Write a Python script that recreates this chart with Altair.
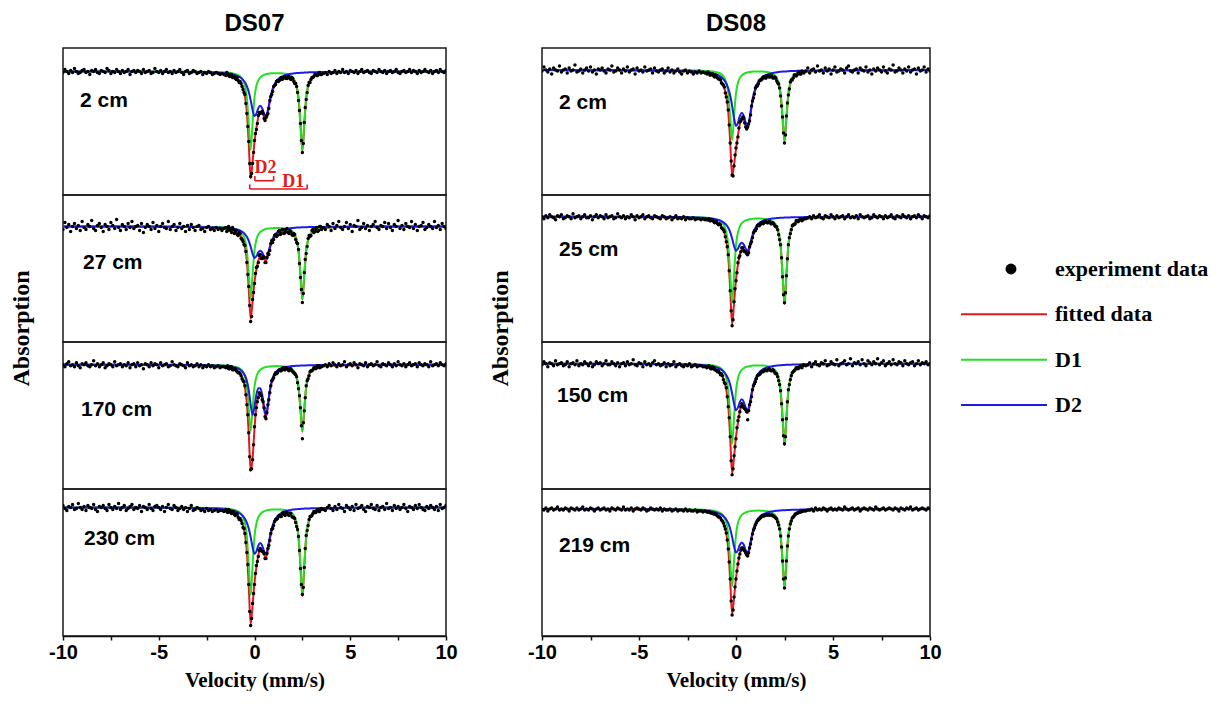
import altair as alt
import pandas as pd

# ---------------- data ----------------
# velocity grid (mm/s) on which the fitted sub-spectra are tabulated
CURVE_VELOCITY = [-10, -6, -3, -2, -1.5, -1.4, -1.3, -1.2, -1.1, -1.0, -0.9, -0.8, -0.7, -0.6,
                  -0.5, -0.4, -0.3, -0.2, -0.1, 0.0, 0.1, 0.2, 0.3, 0.4, 0.5, 0.6, 0.7, 0.8, 0.9,
                  1.0, 1.1, 1.2, 1.3, 1.4, 1.5, 1.6, 1.7, 1.8, 1.9, 2.0, 2.1, 2.2, 2.3, 2.4, 2.5,
                  2.6, 2.7, 2.8, 2.9, 3.0, 3.1, 3.2, 3.3, 3.4, 3.5, 4.5, 6, 10]
# experimental channels: three runs (start mm/s, step mm/s)
SEGMENTS = [(-10.0, 0.1), (-1.5, 0.05), (3.6, 0.1)]

# absorption (a.u., baseline = 0) of sub-spectra D1 and D2, per sample
DS07_2_D1 = [0.0, 0.1, 0.2, 0.5, 1.0, 1.1, 1.3, 1.6, 2.0, 2.4, 3.1, 4.2, 5.8, 8.7, 14.1, 25.8, 51.8, 78.2, 51.9, 25.9, 14.2, 8.8, 6.0, 4.4, 3.4, 2.7, 2.3, 2.0, 1.8, 1.7, 1.7, 1.7, 1.7, 1.8, 2.0, 2.3, 2.7, 3.4, 4.4, 6.0, 8.8, 14.2, 25.9, 51.9, 78.2, 51.8, 25.8, 14.1, 8.7, 5.8, 4.2, 3.1, 2.4, 2.0, 1.6, 0.5, 0.2, 0.0]
DS07_2_D2 = [0.0, 0.1, 0.5, 1.1, 1.8, 2.1, 2.3, 2.7, 3.1, 3.7, 4.4, 5.3, 6.5, 8.3, 10.8, 14.6, 20.2, 28.6, 38.5, 44.6, 42.2, 36.6, 34.2, 36.6, 42.2, 44.6, 38.5, 28.6, 20.2, 14.6, 10.8, 8.3, 6.5, 5.3, 4.4, 3.7, 3.1, 2.7, 2.3, 2.1, 1.8, 1.6, 1.5, 1.3, 1.2, 1.1, 1.0, 0.9, 0.8, 0.8, 0.7, 0.7, 0.6, 0.6, 0.6, 0.3, 0.1, 0.0]
DS07_27_D1 = [0.0, 0.1, 0.2, 0.5, 0.9, 1.1, 1.2, 1.5, 1.8, 2.3, 2.9, 3.8, 5.4, 8.0, 13.0, 23.9, 47.8, 72.2, 47.9, 23.9, 13.1, 8.1, 5.5, 4.0, 3.1, 2.5, 2.1, 1.9, 1.7, 1.6, 1.5, 1.5, 1.6, 1.7, 1.9, 2.1, 2.5, 3.1, 4.0, 5.5, 8.1, 13.1, 23.9, 47.9, 72.2, 47.8, 23.9, 13.0, 8.0, 5.4, 3.8, 2.9, 2.3, 1.8, 1.5, 0.4, 0.2, 0.0]
DS07_27_D2 = [0.0, 0.1, 0.4, 0.8, 1.3, 1.5, 1.7, 1.9, 2.2, 2.6, 3.1, 3.7, 4.6, 5.8, 7.6, 10.3, 14.3, 20.2, 27.2, 31.5, 29.8, 25.9, 24.2, 25.9, 29.8, 31.5, 27.2, 20.2, 14.3, 10.3, 7.6, 5.8, 4.6, 3.7, 3.1, 2.6, 2.2, 1.9, 1.7, 1.5, 1.3, 1.1, 1.0, 0.9, 0.8, 0.8, 0.7, 0.6, 0.6, 0.6, 0.5, 0.5, 0.4, 0.4, 0.4, 0.2, 0.1, 0.0]
DS07_170_D1 = [0.0, 0.1, 0.2, 0.5, 0.8, 1.0, 1.1, 1.4, 1.7, 2.1, 2.7, 3.5, 4.9, 7.3, 12.0, 21.9, 43.9, 66.2, 43.9, 21.9, 12.0, 7.4, 5.1, 3.7, 2.9, 2.3, 2.0, 1.7, 1.6, 1.5, 1.4, 1.4, 1.5, 1.6, 1.7, 2.0, 2.3, 2.9, 3.7, 5.1, 7.4, 12.0, 21.9, 43.9, 66.2, 43.9, 21.9, 12.0, 7.3, 4.9, 3.5, 2.7, 2.1, 1.7, 1.4, 0.4, 0.1, 0.0]
DS07_170_D2 = [0.0, 0.1, 0.4, 0.8, 1.3, 1.5, 1.8, 2.1, 2.4, 2.9, 3.5, 4.4, 5.7, 7.7, 10.8, 16.1, 25.4, 39.9, 50.0, 41.9, 29.7, 23.6, 23.6, 29.7, 41.9, 50.0, 39.9, 25.4, 16.1, 10.8, 7.7, 5.7, 4.4, 3.5, 2.9, 2.4, 2.1, 1.8, 1.5, 1.3, 1.2, 1.1, 1.0, 0.9, 0.8, 0.7, 0.7, 0.6, 0.6, 0.5, 0.5, 0.4, 0.4, 0.4, 0.4, 0.2, 0.1, 0.0]
DS07_230_D1 = [0.0, 0.1, 0.3, 0.6, 1.1, 1.3, 1.5, 1.8, 2.2, 2.7, 3.5, 4.6, 6.5, 9.7, 15.8, 28.8, 57.8, 87.2, 57.8, 28.9, 15.9, 9.8, 6.7, 4.9, 3.8, 3.1, 2.6, 2.3, 2.0, 1.9, 1.9, 1.9, 1.9, 2.0, 2.3, 2.6, 3.1, 3.8, 4.9, 6.7, 9.8, 15.9, 28.9, 57.8, 87.2, 57.8, 28.8, 15.8, 9.7, 6.5, 4.6, 3.5, 2.7, 2.2, 1.8, 0.5, 0.2, 0.0]
DS07_230_D2 = [0.1, 0.1, 0.5, 1.1, 1.9, 2.1, 2.4, 2.8, 3.2, 3.8, 4.5, 5.5, 6.8, 8.6, 11.2, 15.1, 21.0, 29.6, 39.9, 46.3, 43.8, 38.0, 35.4, 38.0, 43.8, 46.3, 39.9, 29.6, 21.0, 15.1, 11.2, 8.6, 6.8, 5.5, 4.5, 3.8, 3.2, 2.8, 2.4, 2.1, 1.9, 1.7, 1.5, 1.4, 1.2, 1.1, 1.0, 1.0, 0.9, 0.8, 0.8, 0.7, 0.7, 0.6, 0.6, 0.3, 0.1, 0.1]
DS08_2_D1 = [0.0, 0.1, 0.2, 0.5, 0.9, 1.0, 1.2, 1.4, 1.8, 2.2, 2.8, 3.7, 5.2, 7.8, 12.7, 23.2, 46.5, 70.2, 46.5, 23.2, 12.8, 7.9, 5.4, 3.9, 3.0, 2.5, 2.1, 1.8, 1.6, 1.5, 1.5, 1.5, 1.5, 1.6, 1.8, 2.1, 2.5, 3.0, 3.9, 5.4, 7.9, 12.8, 23.2, 46.5, 70.2, 46.5, 23.2, 12.7, 7.8, 5.2, 3.7, 2.8, 2.2, 1.8, 1.4, 0.4, 0.1, 0.0]
DS08_2_D2 = [0.1, 0.2, 0.7, 1.4, 2.3, 2.6, 2.9, 3.4, 3.9, 4.6, 5.4, 6.6, 8.2, 10.4, 13.5, 18.2, 25.3, 35.8, 48.2, 55.9, 52.8, 45.8, 42.8, 45.8, 52.8, 55.9, 48.2, 35.8, 25.3, 18.2, 13.5, 10.4, 8.2, 6.6, 5.4, 4.6, 3.9, 3.4, 2.9, 2.6, 2.3, 2.0, 1.8, 1.6, 1.5, 1.4, 1.3, 1.1, 1.1, 1.0, 0.9, 0.8, 0.8, 0.7, 0.7, 0.4, 0.2, 0.1]
DS08_25_D1 = [0.0, 0.1, 0.3, 0.6, 1.1, 1.3, 1.5, 1.8, 2.2, 2.7, 3.5, 4.6, 6.4, 9.5, 15.6, 28.5, 57.1, 86.2, 57.2, 28.6, 15.7, 9.7, 6.6, 4.8, 3.7, 3.0, 2.5, 2.2, 2.0, 1.9, 1.8, 1.8, 1.9, 2.0, 2.2, 2.5, 3.0, 3.7, 4.8, 6.6, 9.7, 15.7, 28.6, 57.2, 86.2, 57.1, 28.5, 15.6, 9.5, 6.4, 4.6, 3.5, 2.7, 2.2, 1.8, 0.5, 0.2, 0.0]
DS08_25_D2 = [0.0, 0.1, 0.4, 0.8, 1.4, 1.6, 1.8, 2.0, 2.4, 2.8, 3.3, 4.0, 5.0, 6.3, 8.2, 11.1, 15.4, 21.8, 29.3, 34.0, 32.1, 27.9, 26.0, 27.9, 32.1, 34.0, 29.3, 21.8, 15.4, 11.1, 8.2, 6.3, 5.0, 4.0, 3.3, 2.8, 2.4, 2.0, 1.8, 1.6, 1.4, 1.2, 1.1, 1.0, 0.9, 0.8, 0.8, 0.7, 0.6, 0.6, 0.6, 0.5, 0.5, 0.5, 0.4, 0.2, 0.1, 0.0]
DS08_150_D1 = [0.0, 0.1, 0.2, 0.6, 1.0, 1.2, 1.4, 1.6, 2.0, 2.5, 3.2, 4.3, 6.0, 8.9, 14.5, 26.5, 53.2, 80.2, 53.2, 26.6, 14.6, 9.0, 6.1, 4.5, 3.5, 2.8, 2.4, 2.1, 1.9, 1.8, 1.7, 1.7, 1.8, 1.9, 2.1, 2.4, 2.8, 3.5, 4.5, 6.1, 9.0, 14.6, 26.6, 53.2, 80.2, 53.2, 26.5, 14.5, 8.9, 6.0, 4.3, 3.2, 2.5, 2.0, 1.6, 0.5, 0.2, 0.0]
DS08_150_D2 = [0.1, 0.1, 0.5, 1.1, 1.9, 2.1, 2.4, 2.8, 3.2, 3.8, 4.5, 5.5, 6.8, 8.6, 11.2, 15.2, 21.1, 29.8, 40.1, 46.5, 44.0, 38.2, 35.6, 38.2, 44.0, 46.5, 40.1, 29.8, 21.1, 15.2, 11.2, 8.6, 6.8, 5.5, 4.5, 3.8, 3.2, 2.8, 2.4, 2.1, 1.9, 1.7, 1.5, 1.4, 1.2, 1.1, 1.0, 1.0, 0.9, 0.8, 0.8, 0.7, 0.7, 0.6, 0.6, 0.3, 0.1, 0.1]
DS08_219_D1 = [0.0, 0.1, 0.2, 0.5, 1.0, 1.1, 1.3, 1.6, 1.9, 2.4, 3.1, 4.1, 5.7, 8.5, 14.0, 25.5, 51.2, 77.2, 51.2, 25.6, 14.0, 8.7, 5.9, 4.3, 3.3, 2.7, 2.3, 2.0, 1.8, 1.7, 1.6, 1.6, 1.7, 1.8, 2.0, 2.3, 2.7, 3.3, 4.3, 5.9, 8.7, 14.0, 25.6, 51.2, 77.2, 51.2, 25.5, 14.0, 8.5, 5.7, 4.1, 3.1, 2.4, 1.9, 1.6, 0.4, 0.2, 0.0]
DS08_219_D2 = [0.0, 0.1, 0.5, 1.1, 1.8, 2.0, 2.3, 2.6, 3.0, 3.6, 4.3, 5.2, 6.4, 8.1, 10.5, 14.2, 19.8, 27.9, 37.6, 43.6, 41.2, 35.8, 33.4, 35.8, 41.2, 43.6, 37.6, 27.9, 19.8, 14.2, 10.5, 8.1, 6.4, 5.2, 4.3, 3.6, 3.0, 2.6, 2.3, 2.0, 1.8, 1.6, 1.4, 1.3, 1.2, 1.1, 1.0, 0.9, 0.8, 0.8, 0.7, 0.7, 0.6, 0.6, 0.5, 0.3, 0.1, 0.0]

# experiment data (absorption a.u.): channels -10..-1.6 (0.1), -1.5..3.5 (0.05), 3.6..10 (0.1) mm/s
DS07_2_LEFT = [1, -2, 0, 2, -1, 1, -3, 0, 2, 1, -1, -2, 1, 0, 3, -1, 0, -2, 1, 2, -1, 0, 1, -3, -1, 2, 0, 1, -2, 0,
               2, -1, 1, 0, -2, 3, 0, -1, 1, -1, 0, 2, -2, 1, 0, -1, 2, 1, -3, 0, 1, -1, 2, 0, -2, 1, 0, 2, -1, 1,
               0, -2, 1, 3, 0, -1, 2, 1, -1, 0, 2, 1, 0, 3, 1, 2, 0, 1, 3, 2, 1, 2, 3, 2, 3]
DS07_2_CENTER = [4, 1, 2, 4, 5, 3, 3, 6, 6, 5, 7, 8, 6, 9, 11, 10, 12, 15, 18, 21,
                 23, 32, 42, 55, 70, 92, 105, 102, 92, 81, 69, 62, 58, 52, 44, 41, 42, 41, 40, 42,
                 47, 49, 46, 44, 42, 37, 29, 25, 23, 20, 15, 14, 13, 10, 9, 10, 9, 7, 6, 8,
                 7, 6, 5, 7, 7, 5, 5, 7, 8, 6, 7, 10, 12, 12, 15, 21, 29, 39, 52, 69,
                 81, 72, 51, 36, 28, 21, 14, 11, 11, 8, 6, 6, 5, 3, 3, 4, 4, 2, 1, 3, 3]
DS07_2_RIGHT = [2, 1, 3, 0, 2, 1, -1, 2, 0, 1, -2, 1, 0, 2, -1, 0, 1, -1, 2, 0, -2, 1, 0, -1, 1, 2, -1, 0, 1, -2,
                0, 1, -1, 2, 0, -1, 1, 0, -2, 1, 2, 0, -1, 1, 0, -2, 1, -1, 0, 2, -1, 1, 0, -2, 0, 1, -1, 2, 0, -1,
                1, -2, 0, 1, -1]

DS07_27_LEFT = [3, -4, 1, -2, 5, 0, -3, 2, -1, 4, -5, 1, 3, -2, 0, -6, 2, 4, -1, -3, 1, 5, -2, 0, 3, -4, -1, 2, -7, 1,
                4, -2, 0, 3, -3, 1, -5, 2, 0, -1, 4, -3, 6, 1, -2, 0, 3, -4, 2, -1, 5, 0, -3, 1, 2, -5, 3, 0, -2, 4,
                1, -3, 2, 0, 5, -1, 3, -2, 1, 4, 0, -1, 3, 2, 5, 1, 0, 3, 2, 4, 1, 3, 2, 4, 2]
DS07_27_CENTER = [1, 5, 4, 0, 2, 4, 6, 1, 3, 7, 5, 4, 8, 9, 6, 7, 12, 13, 15, 18,
                  19, 25, 36, 48, 60, 79, 95, 90, 73, 66, 57, 47, 41, 40, 36, 29, 28, 32, 32, 30,
                  31, 36, 36, 31, 27, 28, 24, 17, 14, 16, 13, 9, 8, 10, 9, 5, 4, 8, 7, 3,
                  3, 7, 6, 3, 2, 6, 7, 4, 5, 8, 9, 7, 8, 13, 16, 17, 23, 37, 51, 63,
                  76, 67, 46, 33, 27, 20, 12, 9, 10, 9, 4, 3, 6, 5, 2, 1, 5, 4, 0, 0, 3]
DS07_27_RIGHT = [1, 3, -2, 0, 4, -3, 2, -1, -5, 1, 3, 0, -4, 2, -2, 5, -1, 0, -6, 3, 1, -3, 2, -1, 4, 0, -2, -5, 1, 3,
                 -1, 0, -4, 2, -3, 1, 4, -2, 0, -6, 2, -1, 3, -3, 0, 1, -5, 2, -2, 4, 0, -1, -4, 3, 1, -2, 0, 2, -5, 1,
                 -1, 3, -3, 0, 2]

DS07_170_LEFT = [0, 2, -1, -3, 1, 0, 2, -2, 1, 3, -1, 0, -2, 1, 2, 0, -4, 1, -1, 2, 0, -2, 3, 1, -1, 0, 2, -3, 1, 0,
                 -1, 2, 0, 1, -2, 3, 0, -1, 2, -2, 1, 0, 4, -1, 0, 2, -2, 1, -1, 0, 3, -2, 1, 0, -1, 2, 1, -3, 0, 1,
                 2, -1, 0, 1, 3, -2, 1, 0, 2, 1, -1, 2, 0, 3, 1, 2, 0, 2, 1, 3, 2, 1, 3, 2, 2]
DS07_170_CENTER = [3, 2, 1, 4, 4, 2, 2, 5, 5, 4, 4, 6, 7, 8, 8, 9, 11, 14, 16, 17,
                   21, 30, 40, 50, 68, 92, 105, 104, 95, 80, 62, 50, 43, 37, 33, 28, 30, 31, 35, 37,
                   43, 52, 54, 48, 40, 35, 28, 21, 16, 15, 13, 10, 8, 9, 8, 6, 5, 6, 6, 4,
                   3, 5, 5, 3, 4, 5, 6, 4, 4, 6, 7, 8, 9, 10, 12, 18, 24, 31, 43, 61,
                   74, 58, 46, 33, 21, 16, 14, 11, 7, 6, 6, 5, 3, 3, 4, 3, 1, 1, 3, 2, 2]
DS07_170_RIGHT = [1, 0, 2, -1, 1, -2, 0, 2, -1, 1, 0, -3, 2, 0, -1, 1, -2, 0, 3, -1, 0, 1, -2, 2, 0, -1, 1, 0, -3, 1,
                  2, -1, 0, 1, -2, 0, 2, -1, 1, -3, 0, 1, -1, 2, 0, -2, 1, 0, -1, 2, -2, 0, 1, -1, 0, 2, -3, 1, 0, -1,
                  1, -2, 0, 1, -1]

DS07_230_LEFT = [-2, 1, 3, -1, 0, -3, 2, 1, -4, 0, 2, -1, 3, -2, 0, 1, -3, 2, 4, -1, 0, -2, 1, 3, -3, 0, 2, -1, 1, -4,
                 2, 0, -2, 3, 1, -1, -3, 2, 0, 1, -2, 4, -1, 0, 2, -3, 1, 3, -1, -2, 0, 2, -1, 4, 0, -3, 1, 2, -2, 0,
                 3, 1, -1, 2, 0, 4, 1, -2, 3, 2, 0, 1, 3, 2, 4, 1, 3, 2, 4, 3, 2, 4, 3, 3, 4]
DS07_230_CENTER = [2, 4, 5, 2, 3, 5, 6, 4, 4, 7, 8, 6, 7, 10, 12, 11, 13, 16, 20, 21,
                   26, 35, 45, 57, 77, 104, 118, 111, 96, 86, 77, 66, 58, 54, 49, 43, 41, 43, 44, 44,
                   46, 51, 51, 46, 41, 38, 33, 26, 22, 21, 18, 14, 12, 12, 11, 9, 8, 9, 9, 6,
                   5, 7, 8, 5, 5, 7, 8, 6, 6, 9, 10, 10, 11, 15, 19, 22, 29, 43, 61, 77,
                   87, 80, 60, 41, 28, 23, 18, 12, 9, 9, 8, 6, 4, 5, 5, 3, 2, 4, 4, 2, 1]
DS07_230_RIGHT = [2, 3, 0, -2, 1, 3, -1, 2, -3, 0, 1, 4, -2, 0, 2, -1, 3, -3, 1, 0, -2, 2, 4, -1, 0, -3, 1, 2, -2, 3,
                  0, -1, 2, -4, 1, 0, 3, -2, 1, -1, 2, 0, -3, 1, 4, -1, 0, 2, -2, 1, -3, 0, 2, 3, -1, 1, -2, 0, 2, -1,
                  3, -3, 1, 0, -2]

DS08_2_LEFT = [1, -3, 0, 2, -1, 4, -2, 0, 1, -4, 2, 0, -1, 3, -2, 1, 0, -5, 2, 1, -1, 3, 0, -2, 1, -3, 2, 0, 4, -1,
               0, -2, 1, 3, -1, 0, -4, 2, 1, -2, 0, 3, -1, 1, -3, 2, 0, -1, 4, -2, 1, 0, 2, -3, 1, 0, -1, 3, -2, 1,
               2, 0, -1, 3, 1, -2, 2, 0, 3, 1, -1, 2, 4, 1, 0, 3, 1, 2, 4, 2, 3, 1, 3, 2, 3]
DS08_2_CENTER = [4, 2, 3, 5, 5, 4, 4, 6, 7, 5, 6, 8, 9, 9, 10, 13, 14, 15, 17, 23,
                 27, 32, 40, 55, 73, 91, 105, 106, 96, 85, 78, 73, 67, 58, 52, 51, 49, 47, 48, 53,
                 57, 59, 57, 54, 51, 45, 36, 31, 28, 24, 18, 16, 16, 14, 11, 10, 10, 9, 7, 7,
                 8, 8, 6, 6, 7, 7, 5, 6, 8, 8, 7, 8, 11, 13, 14, 18, 26, 36, 47, 63,
                 73, 65, 46, 33, 25, 19, 12, 10, 10, 8, 5, 5, 6, 5, 3, 2, 4, 4, 1, 2, 3]
DS08_2_RIGHT = [1, -2, 3, 0, -1, 2, -4, 1, 0, 3, -2, 1, -1, 4, 0, -3, 2, 1, -1, 0, 3, -2, -4, 1, 2, 0, -1, 3, -2, 0,
                1, -3, 2, 0, 4, -1, 1, -2, 0, 2, -3, 1, 3, -1, 0, -5, 2, 1, -2, 0, 3, -1, 1, -3, 2, 0, -1, 4, -2, 1,
                0, -3, 2, -1, 1]

DS08_25_LEFT = [0, 2, -1, 1, -2, 0, 1, 3, -1, 0, -2, 2, 1, -1, 0, 2, -3, 1, 0, -1, 2, 0, -2, 1, 1, -1, 3, 0, -2, 1,
                -1, 0, 2, -2, 1, 0, -1, 2, 1, -3, 0, 1, -1, 2, 0, 1, -2, 0, 3, -1, 1, 0, -2, 2, 0, -1, 1, 2, -1, 0,
                1, 2, -1, 0, 2, 1, 0, 3, 1, -1, 2, 1, 2, 0, 3, 1, 2, 2, 1, 3, 2, 2, 3, 2, 3]
DS08_25_CENTER = [3, 3, 2, 4, 4, 3, 3, 5, 6, 5, 5, 7, 8, 7, 8, 11, 12, 13, 15, 20,
                  25, 30, 38, 54, 74, 94, 109, 103, 85, 72, 64, 56, 46, 41, 39, 35, 31, 31, 34, 35,
                  35, 37, 38, 36, 30, 27, 25, 21, 16, 14, 14, 12, 9, 8, 9, 8, 6, 6, 7, 6,
                  4, 5, 6, 6, 5, 5, 7, 7, 6, 7, 9, 10, 10, 13, 18, 23, 28, 41, 60, 78,
                  86, 76, 59, 42, 28, 21, 17, 13, 9, 8, 8, 7, 4, 4, 5, 4, 2, 2, 4, 3, 2]
DS08_25_RIGHT = [2, 1, 0, 2, -1, 1, 0, -2, 1, 2, -1, 0, 1, -2, 0, 2, -1, 1, 0, -1, 2, 0, -2, 1, 0, 1, -1, 2, -2, 0,
                 1, 0, -1, 2, 1, -2, 0, 1, -1, 0, 2, -1, 1, 0, -2, 1, 2, -1, 0, 1, -2, 0, 1, -1, 2, 0, -1, 1, -2, 0,
                 2, -1, 0, 1, -1]

DS08_150_LEFT = [1, -2, 0, 3, -1, 0, 2, -3, 1, 0, -1, 2, 1, -2, 3, 0, -1, 1, -3, 2, 0, 1, -2, 0, 2, -1, 3, 1, -2, 0,
                 -1, 2, 0, -3, 1, 1, -2, 0, 2, -1, 3, 0, -1, 2, -2, 1, 0, -4, 1, 2, -1, 0, 3, -2, 1, 0, 2, -1, -3, 1,
                 0, 2, 1, -1, 3, 0, 2, 1, -2, 3, 1, 0, 2, 3, 1, 2, 0, 3, 2, 1, 3, 2, 2, 3, 3]
DS08_150_CENTER = [4, 3, 2, 4, 5, 5, 3, 4, 6, 6, 7, 8, 7, 9, 11, 10, 12, 16, 19, 20,
                   24, 33, 43, 54, 73, 97, 111, 105, 92, 83, 75, 64, 57, 53, 48, 43, 40, 42, 44, 45,
                   46, 48, 56, 47, 41, 38, 33, 26, 22, 20, 18, 15, 12, 11, 11, 10, 8, 8, 8, 7,
                   6, 7, 7, 6, 5, 6, 7, 7, 6, 7, 9, 10, 10, 13, 17, 21, 27, 40, 56, 72,
                   80, 73, 55, 38, 26, 21, 16, 12, 9, 8, 7, 6, 4, 4, 5, 4, 2, 3, 4, 2, 1]
DS08_150_RIGHT = [2, 1, -1, 3, 0, -2, 1, 2, -1, 0, -3, 2, 1, -2, 0, 1, -4, 2, 0, -1, -3, 1, 0, -5, 2, -1, 0, -2, 1, -4,
                  0, 2, -3, -1, 1, -2, 0, -5, 1, -1, -3, 2, 0, -2, 1, -4, 0, 1, -2, -1, 2, -3, 0, 1, -1, -2, 2, 0, -3, 1,
                  -1, 0, -2, 1, 0]

DS08_219_LEFT = [0, 1, -1, 2, 0, -1, 1, 0, -2, 1, 0, 1, -1, 0, 2, -1, 0, 1, -1, 1, 0, -2, 1, 0, 1, -1, 0, 2, 0, -1,
                 1, 0, -1, 1, 0, 2, -1, 0, 1, -1, 0, 1, -2, 1, 0, 1, -1, 2, 0, -1, 0, 1, -1, 0, 2, 1, -1, 0, 1, 0,
                 1, -1, 2, 0, 1, 1, 0, 2, 1, 0, 2, 1, 1, 2, 0, 2, 1, 2, 2, 1, 3, 2, 2, 3, 2]
DS08_219_CENTER = [3, 3, 3, 3, 4, 4, 4, 5, 5, 5, 6, 7, 8, 8, 9, 11, 12, 14, 17, 20,
                   24, 31, 40, 53, 70, 92, 106, 101, 88, 78, 70, 62, 55, 49, 45, 41, 39, 39, 41, 42,
                   44, 46, 47, 44, 39, 35, 30, 25, 21, 19, 16, 14, 12, 11, 10, 9, 8, 7, 7, 7,
                   6, 6, 6, 6, 6, 6, 6, 6, 7, 7, 8, 9, 10, 13, 16, 20, 27, 38, 52, 70,
                   79, 69, 52, 37, 27, 20, 15, 12, 9, 8, 7, 5, 5, 4, 4, 3, 3, 3, 2, 2, 2]
DS08_219_RIGHT = [2, 1, 1, 0, 2, -1, 1, 0, 1, -1, 0, 2, 0, -1, 1, 0, 1, -1, 0, 1, -2, 0, 1, 0, -1, 1, 0, -1, 2, 0,
                  -1, 0, 1, -1, 0, 1, -2, 0, 1, 0, -1, 1, 0, -1, 0, 1, -1, 0, 2, -1, 0, 1, -1, 0, -2, 1, 0, -1, 1, 0,
                  -1, 0, 1, -1, 0]

DATASETS = ["DS07", "DS08"]
DEPTHS = {"DS07": ["2 cm", "27 cm", "170 cm", "230 cm"], "DS08": ["2 cm", "25 cm", "150 cm", "219 cm"]}
SERIES = {
    ("DS07", "2 cm"): (DS07_2_D1, DS07_2_D2, DS07_2_LEFT, DS07_2_CENTER, DS07_2_RIGHT),
    ("DS07", "27 cm"): (DS07_27_D1, DS07_27_D2, DS07_27_LEFT, DS07_27_CENTER, DS07_27_RIGHT),
    ("DS07", "170 cm"): (DS07_170_D1, DS07_170_D2, DS07_170_LEFT, DS07_170_CENTER, DS07_170_RIGHT),
    ("DS07", "230 cm"): (DS07_230_D1, DS07_230_D2, DS07_230_LEFT, DS07_230_CENTER, DS07_230_RIGHT),
    ("DS08", "2 cm"): (DS08_2_D1, DS08_2_D2, DS08_2_LEFT, DS08_2_CENTER, DS08_2_RIGHT),
    ("DS08", "25 cm"): (DS08_25_D1, DS08_25_D2, DS08_25_LEFT, DS08_25_CENTER, DS08_25_RIGHT),
    ("DS08", "150 cm"): (DS08_150_D1, DS08_150_D2, DS08_150_LEFT, DS08_150_CENTER, DS08_150_RIGHT),
    ("DS08", "219 cm"): (DS08_219_D1, DS08_219_D2, DS08_219_LEFT, DS08_219_CENTER, DS08_219_RIGHT),
}
LEGEND_ITEMS = ["experiment data", "fitted data", "D1", "D2"]

# ---------------- styling / layout ----------------
RED, GREEN, BLUE = "#e3191c", "#22e022", "#1c1ce8"
SERIF, SANS = "Liberation Serif", "Liberation Sans"
PANEL_H = 147
PANEL_W = {"DS07": 383, "DS08": 388}
# gap (a.u.) between panel top and the spectrum baseline
BASE_GAP = {("DS07", 0): 23.5, ("DS07", 1): 31.5, ("DS07", 2): 22.7, ("DS07", 3): 18.5,
            ("DS08", 0): 22, ("DS08", 1): 21.7, ("DS08", 2): 21.7, ("DS08", 3): 20}
LABEL_POS = {("DS07", 0): (17, 53), ("DS07", 1): (20, 68), ("DS07", 2): (18, 68), ("DS07", 3): (21, 50),
             ("DS08", 0): (17, 55), ("DS08", 1): (17, 55), ("DS08", 2): (15, 54), ("DS08", 3): (17, 57)}
BRACKETS = pd.DataFrame({"name": ["D2", "D1"], "v1": [0.02, -0.25], "v2": [1.0, 2.75],
                         "a": [109.2, 117.5], "tip": [104.6, 112.9],
                         "tv": [0.58, 2.02], "ta": [96.5, 110.5]})


def dots_frame(left, center, right):
    rows = []
    for (start, step), seg in zip(SEGMENTS, (left, center, right)):
        for k, val in enumerate(seg):
            rows.append({"v": round(start + step * k, 3), "a": val})
    return pd.DataFrame(rows)


def make_panel(ds, idx):
    depth = DEPTHS[ds][idx]
    d1, d2, left, center, right = SERIES[(ds, depth)]
    curves = pd.DataFrame({"v": CURVE_VELOCITY, "d1": d1, "d2": d2})
    curves["fit"] = curves["d1"] + curves["d2"]
    dots = dots_frame(left, center, right)
    gap = BASE_GAP[(ds, idx)]

    xscale = alt.Scale(domain=[-10, 10], nice=False, zero=False)
    yscale = alt.Scale(domain=[-gap, PANEL_H - gap], reverse=True, nice=False, zero=False)
    if idx == 3:
        xaxis = alt.Axis(values=[-10, -7.5, -5, -2.5, 0, 2.5, 5, 7.5, 10],
                         labelExpr="datum.value % 5 === 0 ? '' + datum.value : ''",
                         grid=False, tickSize=4, tickWidth=1.5, tickColor="#111",
                         domainColor="#111", domainWidth=1.5, labelFlush=False, labelOverlap=False,
                         labelFont=SANS, labelFontSize=20, labelFontWeight="bold", labelColor="black",
                         labelPadding=2, title="Velocity (mm/s)", titleFont=SERIF, titleFontSize=21,
                         titleFontWeight="bold", titleColor="black", titlePadding=7)
    else:
        xaxis = None
    if idx == 1:
        yaxis = alt.Axis(title="Absorption", labels=False, ticks=False, domain=False, grid=False,
                         titleX=-30, titleY=133, titleAngle=270, titleAlign="center",
                         titleBaseline="bottom", titleFont=SERIF, titleFontSize=24,
                         titleFontWeight="bold", titleColor="black")
    else:
        yaxis = None

    def X(field):
        return alt.X(field, type="quantitative", scale=xscale, axis=xaxis, title="Velocity (mm/s)")

    def Y(field):
        return alt.Y(field, type="quantitative", scale=yscale, axis=yaxis, title="Absorption")

    base = alt.Chart(curves)
    red = base.mark_line(color=RED, strokeWidth=2, interpolate="monotone", clip=True).encode(x=X("v"), y=Y("fit"))
    green = base.mark_line(color=GREEN, strokeWidth=2, interpolate="monotone", clip=True).encode(x=X("v"), y=Y("d1"))
    blue = base.mark_line(color=BLUE, strokeWidth=2, interpolate="monotone", clip=True).encode(x=X("v"), y=Y("d2"))
    pts = alt.Chart(dots).mark_circle(size=12, color="black", opacity=1, clip=True).encode(x=X("v"), y=Y("a"))
    lx, ly = LABEL_POS[(ds, idx)]
    label = alt.Chart(pd.DataFrame({"t": [depth]})).mark_text(
        align="left", baseline="middle", font=SANS, fontSize=21, fontWeight="bold", color="black"
    ).encode(text="t:N", x=alt.value(lx), y=alt.value(ly))
    layers = [red, green, blue, pts, label]
    if ds == "DS07" and idx == 0:
        br = alt.Chart(BRACKETS)
        hline = br.mark_rule(color=RED, strokeWidth=1.6).encode(x=X("v1"), x2="v2", y=Y("a"))
        t1 = br.mark_rule(color=RED, strokeWidth=1.6).encode(x=X("v1"), y=Y("a"), y2="tip")
        t2 = br.mark_rule(color=RED, strokeWidth=1.6).encode(x=X("v2"), y=Y("a"), y2="tip")
        txt = br.mark_text(color=RED, font=SERIF, fontSize=18, fontWeight="bold",
                           align="center", baseline="middle").encode(x=X("tv"), y=Y("ta"), text="name:N")
        layers += [hline, t1, t2, txt]
    chart = alt.layer(*layers).properties(width=PANEL_W[ds], height=PANEL_H)
    if idx == 0:
        chart = chart.properties(title=alt.TitleParams(text=ds, font=SANS, fontSize=24, fontWeight="bold",
                                                       color="black", anchor="middle", offset=12))
    return chart


columns = [alt.vconcat(*[make_panel(ds, i) for i in range(4)], spacing=0, bounds="flush")
           for ds in DATASETS]

legend_df = pd.DataFrame({"series": LEGEND_ITEMS, "slot": list(range(len(LEGEND_ITEMS))),
                          "kind": ["dot", "line", "line", "line"]})
ly = alt.Y("slot:Q", axis=None, scale=alt.Scale(domain=[0, 3], range=[221, 357], nice=False, zero=False))
lcolor = alt.Color("series:N", legend=None,
                   scale=alt.Scale(domain=LEGEND_ITEMS, range=["black", RED, GREEN, BLUE]))
leg_base = alt.Chart(legend_df)
leg_dot = leg_base.transform_filter("datum.kind == 'dot'").mark_circle(size=120, opacity=1).encode(
    x=alt.value(50), y=ly, color=lcolor)
leg_line = leg_base.transform_filter("datum.kind == 'line'").mark_rule(strokeWidth=2).encode(
    x=alt.value(0), x2=alt.value(86), y=ly, color=lcolor)
leg_text = leg_base.mark_text(align="left", baseline="middle", font=SERIF, fontSize=22,
                              fontWeight="bold", color="black").encode(x=alt.value(94), y=ly, text="series:N")
legend = alt.layer(leg_dot, leg_line, leg_text).properties(
    width=240, height=420, view=alt.ViewBackground(stroke="transparent"))

chart = alt.hconcat(alt.hconcat(columns[0], columns[1], spacing=29), legend, spacing=17).properties(
    padding={"top": 3, "left": 0, "right": 0, "bottom": 0}
).configure(background="white", view=alt.ViewConfig(stroke="#1a1a1a", strokeWidth=1.5))

chart.save("out.html", embed_options={"renderer": "svg", "actions": False})
